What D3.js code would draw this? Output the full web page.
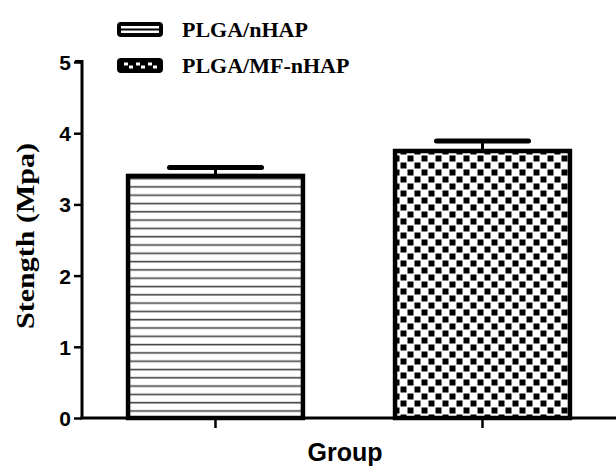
<!DOCTYPE html>
<html><head><meta charset="utf-8">
<script src="https://cdn.jsdelivr.net/npm/d3@7"></script>
<style>body{margin:0;background:#fff}svg{display:block}</style>
</head><body>
<svg id="c" width="616" height="469"></svg>
<script>
const groups = ["PLGA/nHAP", "PLGA/MF-nHAP"];
const values = [3.40, 3.75];
const errors = [0.12, 0.14];
const yTicks = [0, 1, 2, 3, 4, 5];
const yTitle = "Stength (Mpa)";
const xTitle = "Group";

const svg = d3.select("#c");
const defs = svg.append("defs");
// horizontal line pattern
const ph = defs.append("pattern").attr("id","hlines").attr("patternUnits","userSpaceOnUse")
  .attr("width",10).attr("height",8.3);
ph.append("rect").attr("width",10).attr("height",8.3).attr("fill","#fff");
ph.append("rect").attr("y",3.5).attr("width",10).attr("height",1.6).attr("fill","#444");
// checker pattern
const pc = defs.append("pattern").attr("id","checker").attr("patternUnits","userSpaceOnUse")
  .attr("width",14).attr("height",14).attr("x",1).attr("y",1);
pc.append("rect").attr("width",14).attr("height",14).attr("fill","#fff");
pc.append("rect").attr("x",0.5).attr("y",0.5).attr("width",6).attr("height",6).attr("fill","#000");
pc.append("rect").attr("x",7.5).attr("y",7.5).attr("width",6).attr("height",6).attr("fill","#000");
const fills = ["url(#hlines)", "url(#checker)"];

const x = d3.scaleBand().domain(groups).range([82, 616]).paddingInner(0.33).paddingOuter(0.165);
const y = d3.scaleLinear().domain([0, 5]).range([418, 62]);

// bars
svg.selectAll("rect.bar").data(groups).enter().append("rect")
  .attr("class","bar")
  .attr("x", d => x(d) + 2).attr("width", x.bandwidth() - 4)
  .attr("y", (d,i) => y(values[i])).attr("height", (d,i) => y(0) - y(values[i]))
  .attr("fill", (d,i) => fills[i]).attr("stroke","#000").attr("stroke-width",4.5);

// error bars
groups.forEach((g,i) => {
  const cx = x(g) + x.bandwidth()/2;
  svg.append("line").attr("x1",cx).attr("x2",cx)
    .attr("y1",y(values[i])).attr("y2",y(values[i]+errors[i]))
    .attr("stroke","#000").attr("stroke-width",3);
  svg.append("line").attr("x1",cx-46).attr("x2",cx+46)
    .attr("y1",y(values[i]+errors[i])).attr("y2",y(values[i]+errors[i]))
    .attr("stroke","#000").attr("stroke-width",5).attr("stroke-linecap","round");
});

// y axis
const ya = svg.append("g").attr("transform","translate(82,0)")
  .call(d3.axisLeft(y).tickValues(yTicks).tickFormat(d3.format("d")).tickSize(8).tickSizeOuter(0));
ya.select(".domain").attr("stroke","#000").attr("stroke-width",3).attr("d","M0,418V61.5H-7");
ya.selectAll(".tick line").attr("stroke","#000").attr("stroke-width",2.5);
ya.selectAll(".tick text").attr("font-family","Liberation Sans, Arial, sans-serif")
  .attr("font-weight","bold").attr("font-size",21).attr("fill","#000").attr("x",-11).attr("dy","0.36em");

// x axis
const xa = svg.append("g").attr("transform","translate(0,418)")
  .call(d3.axisBottom(x).tickSize(10).tickSizeOuter(0).tickFormat(""));
xa.select(".domain").attr("stroke","#000").attr("stroke-width",3).attr("d","M80.5,0H616");
xa.selectAll(".tick line").attr("stroke","#000").attr("stroke-width",2.5);

// titles
svg.append("text").attr("x",345).attr("y",461).attr("text-anchor","middle")
  .attr("font-family","Liberation Sans, Arial, sans-serif").attr("font-weight","bold")
  .attr("font-size",25).attr("fill","#000").text(xTitle);
svg.append("text").attr("transform","translate(34,236) rotate(-90)").attr("text-anchor","middle")
  .attr("font-family","Liberation Serif, Times New Roman, serif").attr("font-weight","bold")
  .attr("font-size",25).attr("fill","#000")
  .attr("textLength",186).attr("lengthAdjust","spacingAndGlyphs").text(yTitle);

// legend
const legY = [29.5, 65.5];
groups.forEach((g,i) => {
  const lg = svg.append("g").attr("transform",`translate(119,${legY[i]})`);
  if (i === 0) {
    lg.append("rect").attr("x",0).attr("y",-5.5).attr("width",42).attr("height",11)
      .attr("fill","#fff").attr("stroke","#000").attr("stroke-width",4).attr("rx",2);
    lg.append("line").attr("x1",0).attr("x2",42).attr("y1",0).attr("y2",0)
      .attr("stroke","#000").attr("stroke-width",2);
  } else {
    lg.append("rect").attr("x",0).attr("y",-5.5).attr("width",42).attr("height",11)
      .attr("fill","#000").attr("stroke","#000").attr("stroke-width",4).attr("rx",2);
    [5, 17, 29].forEach(px => {
      lg.append("rect").attr("x",px).attr("y",-3).attr("width",4).attr("height",3).attr("fill","#fff");
      lg.append("rect").attr("x",px+5).attr("y",0).attr("width",4).attr("height",3).attr("fill","#fff");
    });
  }
  lg.append("text").attr("x",63).attr("y",7).attr("font-family","Liberation Serif, Times New Roman, serif")
    .attr("font-weight","bold").attr("font-size",22).attr("fill","#000").text(g);
});
</script>
</body></html>
